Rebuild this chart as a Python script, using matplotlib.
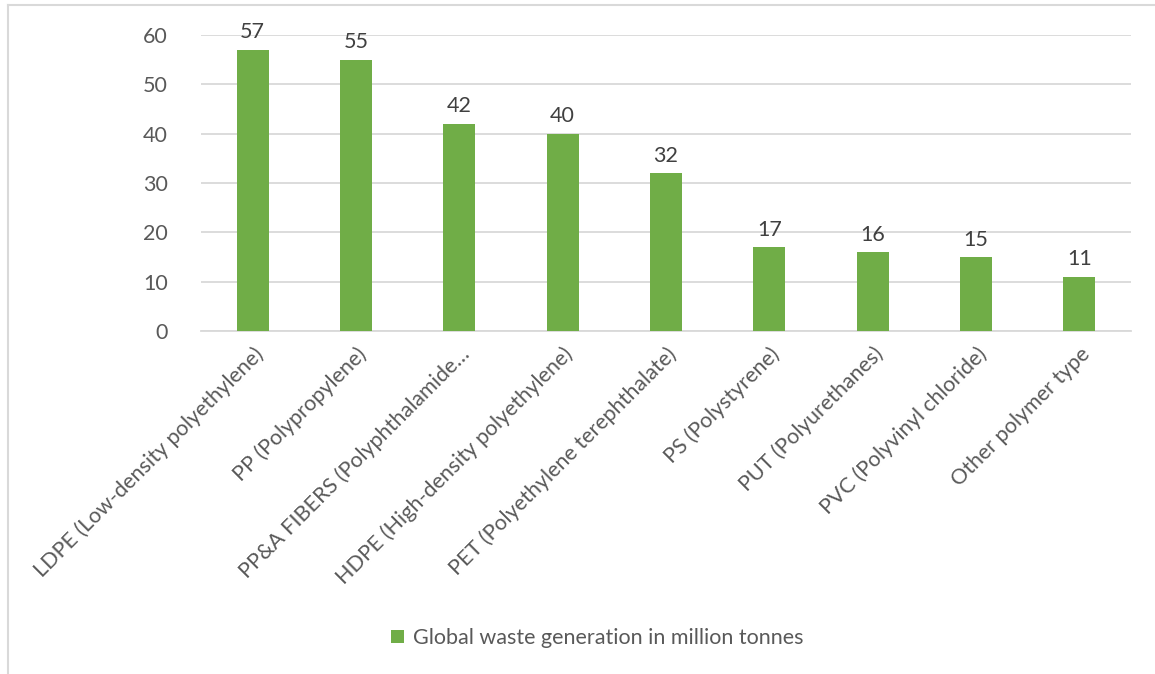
import matplotlib.pyplot as plt
from matplotlib.lines import Line2D

categories = [
    "LDPE (Low-density polyethylene)",
    "PP (Polypropylene)",
    "PP&A FIBERS (Polyphthalamide\u2026",
    "HDPE (High-density polyethylene)",
    "PET (Polyethylene terephthalate)",
    "PS (Polystyrene)",
    "PUT (Polyurethanes)",
    "PVC (Polyvinyl chloride)",
    "Other polymer type",
]
values = [57, 55, 42, 40, 32, 17, 16, 15, 11]
series_name = "Global waste generation in million tonnes"

plt.rcParams['font.family'] = ['Lato', 'DejaVu Sans']
fs = 15.5

fig = plt.figure(figsize=(11.55, 6.74), dpi=100)
ax = fig.add_axes([201 / 1155, 1 - 331 / 674, 930 / 1155, 296 / 674])

x = range(len(categories))
bars = ax.bar(x, values, width=0.31, color='#70AD47', label=series_name, zorder=3)
for b, v in zip(bars, values):
    ax.text(b.get_x() + b.get_width() / 2, v + 1.5, str(v), ha='center', va='bottom',
            fontsize=fs, color='#404040')

ax.set_xlim(-0.5, len(categories) - 0.5)
ax.set_ylim(0, 60)
ax.set_yticks(range(0, 61, 10))
ax.grid(axis='y', color='#D9D9D9', linewidth=1.3, zorder=0)
for s in ['top', 'right', 'left']:
    ax.spines[s].set_visible(False)
ax.spines['bottom'].set_color('#D9D9D9')
ax.spines['bottom'].set_linewidth(1.3)
ax.tick_params(axis='both', length=0, labelsize=fs, labelcolor='#595959')
ax.tick_params(axis='y', pad=24)

ax.set_xticks(list(x))
ax.set_xticklabels(categories, rotation=45, ha='right', va='top', rotation_mode='anchor')
ax.tick_params(axis='x', pad=9)

fig.legend(handles=[bars], labels=[series_name], loc='center',
           bbox_to_anchor=(597 / 1155, 1 - 638 / 674), frameon=False,
           fontsize=fs, labelcolor='#595959', handlelength=0.6, handleheight=0.6,
           handletextpad=0.4)

fig.add_artist(Line2D([8 / 1155, 1], [1 - 5 / 674, 1 - 5 / 674], transform=fig.transFigure,
                      color='#D9D9D9', linewidth=1.5))
fig.add_artist(Line2D([8 / 1155, 8 / 1155], [0, 1 - 5 / 674], transform=fig.transFigure,
                      color='#D9D9D9', linewidth=1.5))

fig.savefig('out.png', dpi=100)
